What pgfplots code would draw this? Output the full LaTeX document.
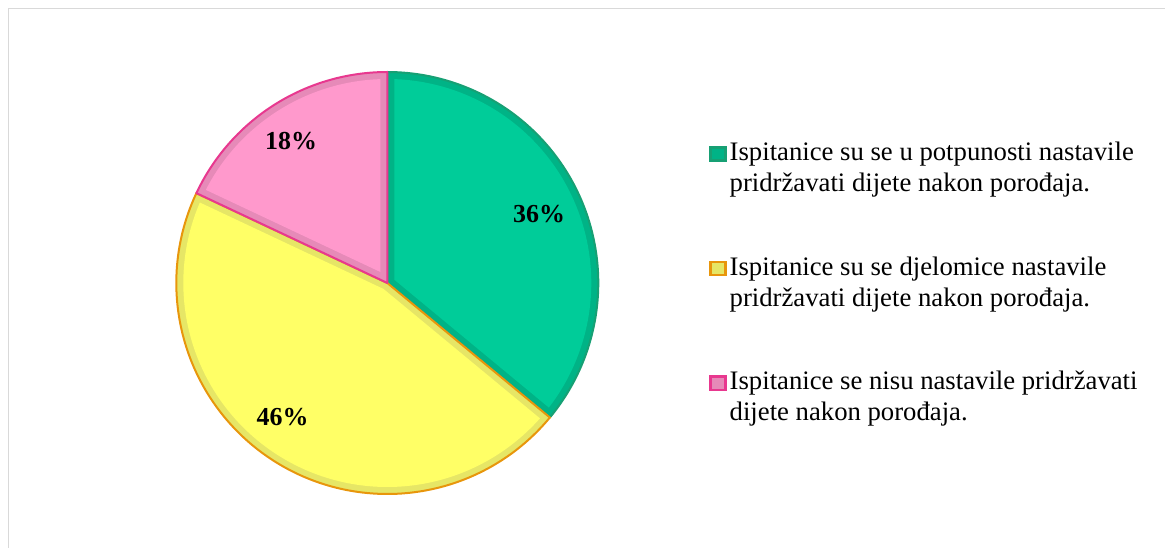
\documentclass[border=0pt]{standalone}
\usepackage{fontspec}
\setmainfont{Liberation Serif}
\usepackage{pgfplots}
\usepackage{pgfplotstable}
\pgfplotsset{compat=1.18}

\definecolor{gMain}{HTML}{00CC99}
\definecolor{gBand}{HTML}{00B386}
\definecolor{gLine}{HTML}{17A074}
\definecolor{yMain}{HTML}{FFFF66}
\definecolor{yBand}{HTML}{E6E666}
\definecolor{yLine}{HTML}{E8960C}
\definecolor{pMain}{HTML}{FF99CC}
\definecolor{pBand}{HTML}{E68AB8}
\definecolor{pLine}{HTML}{E8388F}
\definecolor{frameC}{HTML}{D9D9D9}

\tikzset{
  lbl/.style={anchor=base, inner sep=0pt, font=\bfseries\fontsize{26}{26}\selectfont},
  leg/.style={anchor=base west, inner sep=0pt, font=\fontsize{26.8}{31}\selectfont},
}

% shares in percent: fully / partly / not
\pgfplotstableread{
share
36
46
18
}\piedata

\pgfplotstablegetelem{0}{share}\of\piedata\let\sA\pgfplotsretval
\pgfplotstablegetelem{1}{share}\of\piedata\let\sB\pgfplotsretval
\pgfplotstablegetelem{2}{share}\of\piedata\let\sC\pgfplotsretval

\def\cx{387.3}\def\cy{265}\def\R{211}\def\w{7}
\pgfmathsetmacro\ri{\R-\w}
\pgfmathsetmacro\dl{asin(\w/\ri)}

\pgfmathsetmacro\aA{90-3.6*\sA}
\pgfmathsetmacro\aB{\aA-3.6*\sB}
\pgfmathsetmacro\aC{\aB-3.6*\sC}

% green
\pgfmathsetmacro\gLo{\aA}\pgfmathsetmacro\gHi{90}
\pgfmathsetmacro\gD{\w/sin((\gHi-\gLo)/2)}
\pgfmathsetmacro\gPx{\cx+\gD*cos((\gHi+\gLo)/2)}
\pgfmathsetmacro\gPy{\cy+\gD*sin((\gHi+\gLo)/2)}
\pgfmathsetmacro\giLo{\gLo+\dl}\pgfmathsetmacro\giHi{\gHi-\dl}
% yellow
\pgfmathsetmacro\yLo{\aB}\pgfmathsetmacro\yHi{\aA}
\pgfmathsetmacro\yD{\w/sin((\yHi-\yLo)/2)}
\pgfmathsetmacro\yPx{\cx+\yD*cos((\yHi+\yLo)/2)}
\pgfmathsetmacro\yPy{\cy+\yD*sin((\yHi+\yLo)/2)}
\pgfmathsetmacro\yiLo{\yLo+\dl}\pgfmathsetmacro\yiHi{\yHi-\dl}
% pink
\pgfmathsetmacro\pLo{\aC}\pgfmathsetmacro\pHi{\aB}
\pgfmathsetmacro\pD{\w/sin((\pHi-\pLo)/2)}
\pgfmathsetmacro\pPx{\cx+\pD*cos((\pHi+\pLo)/2)}
\pgfmathsetmacro\pPy{\cy+\pD*sin((\pHi+\pLo)/2)}
\pgfmathsetmacro\piLo{\pLo+\dl}\pgfmathsetmacro\piHi{\pHi-\dl}

\begin{document}
\begin{tikzpicture}
\useasboundingbox (0,0) rectangle (1165bp,548bp);
\begin{axis}[
  at={(0,0)}, anchor=south west,
  scale only axis, width=1165bp, height=548bp,
  xmin=0, xmax=1165, ymin=0, ymax=548,
  hide axis, clip=false,
]
% frame
\draw[frameC, line width=1.6bp] (axis cs:8.5,0) -- (axis cs:8.5,539.5) -- (axis cs:1165,539.5);

% green slice
\addplot[fill=gBand, draw=gLine, line width=2bp, line join=round, domain=\gLo:\gHi, samples=120, variable=\t]
  ({\cx+\R*cos(\t)},{\cy+\R*sin(\t)}) -- (axis cs:\cx,\cy) -- cycle;
\addplot[fill=gMain, draw=none, domain=\giLo:\giHi, samples=120, variable=\t]
  ({\cx+\ri*cos(\t)},{\cy+\ri*sin(\t)}) -- (axis cs:\gPx,\gPy) -- cycle;
% yellow slice
\addplot[fill=yBand, draw=yLine, line width=2bp, line join=round, domain=\yLo:\yHi, samples=140, variable=\t]
  ({\cx+\R*cos(\t)},{\cy+\R*sin(\t)}) -- (axis cs:\cx,\cy) -- cycle;
\addplot[fill=yMain, draw=none, domain=\yiLo:\yiHi, samples=140, variable=\t]
  ({\cx+\ri*cos(\t)},{\cy+\ri*sin(\t)}) -- (axis cs:\yPx,\yPy) -- cycle;
% pink slice
\addplot[fill=pBand, draw=pLine, line width=2bp, line join=round, domain=\pLo:\pHi, samples=80, variable=\t]
  ({\cx+\R*cos(\t)},{\cy+\R*sin(\t)}) -- (axis cs:\cx,\cy) -- cycle;
\addplot[fill=pMain, draw=none, domain=\piLo:\piHi, samples=80, variable=\t]
  ({\cx+\ri*cos(\t)},{\cy+\ri*sin(\t)}) -- (axis cs:\pPx,\pPy) -- cycle;

% data labels
\node[lbl] at (axis cs:539,325.3) {36\%};
\node[lbl] at (axis cs:282.5,122) {46\%};
\node[lbl] at (axis cs:291,398.7) {18\%};

% legend
\draw[draw=gLine, fill=gBand, line width=2.5bp] (axis cs:710.3,400.7) rectangle (axis cs:725.7,387.3);
\node[leg] at (axis cs:729.5,387.3) {Ispitanice su se u potpunosti nastavile};
\node[leg] at (axis cs:729.5,356.3) {pridržavati dijete nakon porođaja.};

\draw[draw=yLine, fill=yBand, line width=2.5bp] (axis cs:710.3,286.2) rectangle (axis cs:725.7,272.8);
\node[leg] at (axis cs:729.5,272.5) {Ispitanice su se djelomice nastavile};
\node[leg] at (axis cs:729.5,241.5) {pridržavati dijete nakon porođaja.};

\draw[draw=pLine, fill=pBand, line width=2.5bp] (axis cs:710.3,171.4) rectangle (axis cs:725.7,158);
\node[leg] at (axis cs:729.5,158) {Ispitanice se nisu nastavile pridržavati};
\node[leg] at (axis cs:729.5,127) {dijete nakon porođaja.};
\end{axis}
\end{tikzpicture}
\end{document}
